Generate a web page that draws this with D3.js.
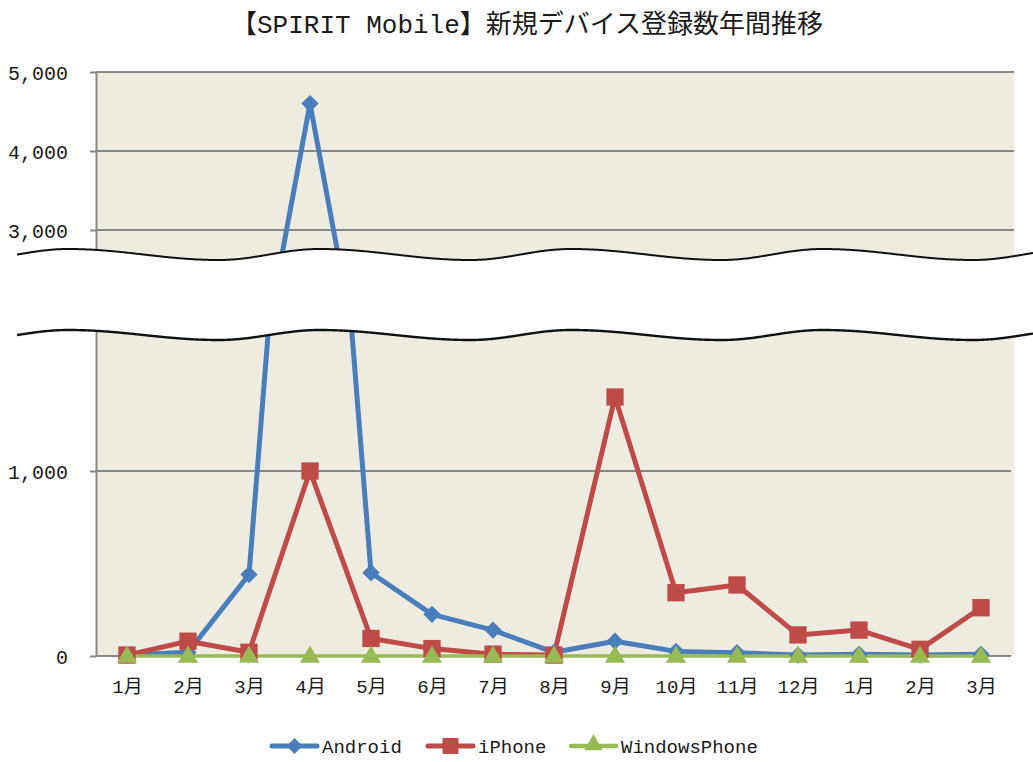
<!DOCTYPE html>
<html><head><meta charset="utf-8">
<script src="https://cdn.jsdelivr.net/npm/d3@7"></script>
<style>
html,body{margin:0;padding:0;background:#fff;}
svg{display:block;}
text{font-family:"Liberation Mono","Noto Sans CJK JP",monospace;fill:#1a1a1a;}
</style></head>
<body>
<svg id="chart" width="1033" height="762"></svg>
<script>
const title = "【SPIRIT Mobile】新規デバイス登録数年間推移";
const categories = ["1月","2月","3月","4月","5月","6月","7月","8月","9月","10月","11月","12月","1月","2月","3月"];
const android = [5, 20, 440, 4600, 450, 225, 140, 20, 80, 25, 18, 5, 10, 5, 10];
const iphone = [5, 80, 20, 1000, 95, 40, 10, 5, 1400, 342, 384, 114, 140, 36, 261];
const windowsPhone = [0, 0, 0, 0, 0, 0, 0, 0, 0, 0, 0, 0, 0, 0, 0];
const upperTicks = [3000, 4000, 5000];
const lowerTicks = [0, 1000];
const seriesNames = ["Android", "iPhone", "WindowsPhone"];

const colors = ["#4A7EBB", "#BE4B48", "#98B954"];
const series = [
  {name: seriesNames[0], values: android, color: colors[0], marker: d3.symbolSquare, rot: 45, size: 150, width: 5},
  {name: seriesNames[1], values: iphone, color: colors[1], marker: d3.symbolSquare, rot: 0, size: 300, width: 5},
  {name: seriesNames[2], values: windowsPhone, color: colors[2], marker: d3.symbolTriangle, rot: 0, size: 175, width: 3.5}
];

const svg = d3.select("#chart");
const plotL = 96, plotR = 1014, plotT = 72, plotB = 656;

const x = d3.scalePoint().domain(d3.range(categories.length)).range([127, 981]);
const yUp = d3.scaleLinear().domain([2500, 5000]).range([269.5, 72]);
const yLo = d3.scaleLinear().domain([0, 1000]).range([656, 471]);

// title
svg.append("text").attr("x", 527).attr("y", 33).attr("text-anchor", "middle")
  .style("font-size", "26px").text(title);

// background
svg.append("rect").attr("x", plotL).attr("y", plotT).attr("width", plotR - plotL).attr("height", plotB - plotT)
  .attr("fill", "#EEECE1");

const defs = svg.append("defs");
defs.append("clipPath").attr("id", "clipUp").append("rect").attr("x", 0).attr("y", 0).attr("width", 1033).attr("height", 300);
defs.append("clipPath").attr("id", "clipLo").append("rect").attr("x", 0).attr("y", 300).attr("width", 1033).attr("height", 462);

// gridlines
const gridCol = "#878787";
svg.append("g").selectAll("line").data(upperTicks).join("line")
  .attr("x1", plotL).attr("x2", plotR).attr("y1", d => yUp(d)).attr("y2", d => yUp(d))
  .attr("stroke", gridCol).attr("stroke-width", 2);
svg.append("g").selectAll("line").data(lowerTicks).join("line")
  .attr("x1", plotL).attr("x2", plotR - 3).attr("y1", d => yLo(d)).attr("y2", d => yLo(d))
  .attr("stroke", gridCol).attr("stroke-width", 2);

// y axes
const fmt = d3.format(",");
function styleAxis(g) {
  g.select(".domain").remove();
  g.selectAll(".tick line").attr("stroke", gridCol).attr("stroke-width", 2);
  g.selectAll(".tick text").style("font-size", "20px").attr("fill", "#222").attr("dy", "0.36em").attr("x", -28);
}
svg.append("g").attr("transform", `translate(${plotL},0)`)
  .call(d3.axisLeft(yUp).tickValues(upperTicks).tickFormat(fmt).tickSize(6).tickPadding(6))
  .call(styleAxis).attr("font-family", null);
svg.append("g").attr("transform", `translate(${plotL},0)`)
  .call(d3.axisLeft(yLo).tickValues(lowerTicks).tickFormat(fmt).tickSize(6).tickPadding(6))
  .call(styleAxis).attr("font-family", null);

svg.append("line").attr("x1", plotL + 0.5).attr("x2", plotL + 0.5).attr("y1", plotT).attr("y2", plotB)
  .attr("stroke", gridCol).attr("stroke-width", 2);

// x axis labels
const xAxis = svg.append("g").attr("transform", `translate(0,${plotB})`)
  .call(d3.axisBottom(x).tickSize(0).tickPadding(0).tickFormat(i => categories[i]))
  .attr("font-family", null);
xAxis.select(".domain").remove();
xAxis.selectAll(".tick text").style("font-size", "19px").attr("fill", "#222").attr("y", 37).attr("dy", 0);

// series
function drawPanel(yScale, clipId) {
  const g = svg.append("g").attr("clip-path", `url(#${clipId})`);
  const line = d3.line().x((d, i) => x(i)).y(d => yScale(d));
  series.forEach(s => {
    g.append("path").datum(s.values).attr("d", line).attr("fill", "none")
      .attr("stroke", s.color).attr("stroke-width", s.width).attr("stroke-linejoin", "round");
  });
  series.forEach(s => {
    g.append("g").selectAll("path").data(s.values).join("path")
      .attr("d", d3.symbol().type(s.marker).size(s.size))
      .attr("transform", (d, i) => `translate(${x(i)},${yScale(d) + (s.marker === d3.symbolTriangle ? 1 : 0)}) rotate(${s.rot})`)
      .attr("fill", s.color);
  });
}
drawPanel(yUp, "clipUp");
drawPanel(yLo, "clipLo");

// break band (decoration)
function wave(c, A) {
  const period = 251.5, peak0 = 68, fall = 0.6;
  return d3.range(17, 1034, 2).map(px => {
    let t = ((px - peak0) / period) % 1; if (t < 0) t += 1;
    const u = t < fall ? t / fall : 1 + (t - fall) / (1 - fall);
    return [px, c - A * Math.cos(Math.PI * u)];
  });
}
const up = wave(254.5, 5.5), lo = wave(335, 5);
const band = up.concat(lo.slice().reverse());
svg.append("path").attr("d", "M" + band.map(p => p.join(",")).join("L") + "Z").attr("fill", "#fff");
const wl = d3.line().curve(d3.curveBasis);
svg.append("path").attr("d", wl(up)).attr("fill", "none").attr("stroke", "#111").attr("stroke-width", 2);
svg.append("path").attr("d", wl(lo)).attr("fill", "none").attr("stroke", "#111").attr("stroke-width", 2.4);

// legend
const legendX = [272, 428, 571];
const lg = svg.append("g");
series.forEach((s, i) => {
  const g = lg.append("g").attr("transform", `translate(${legendX[i]},746)`);
  g.append("line").attr("x1", 0).attr("x2", 45).attr("stroke", s.color).attr("stroke-width", s.width === 5 ? 5 : 4.5).attr("stroke-linecap", "round");
  g.append("path").attr("d", d3.symbol().type(s.marker).size(s.size * 0.85))
    .attr("transform", `translate(22.5,${s.marker === d3.symbolTriangle ? -1 : 0}) rotate(${s.rot})`).attr("fill", s.color);
  g.append("text").attr("x", 50).attr("y", 7).style("font-size", "19px").text(s.name);
});
</script>
</body></html>
